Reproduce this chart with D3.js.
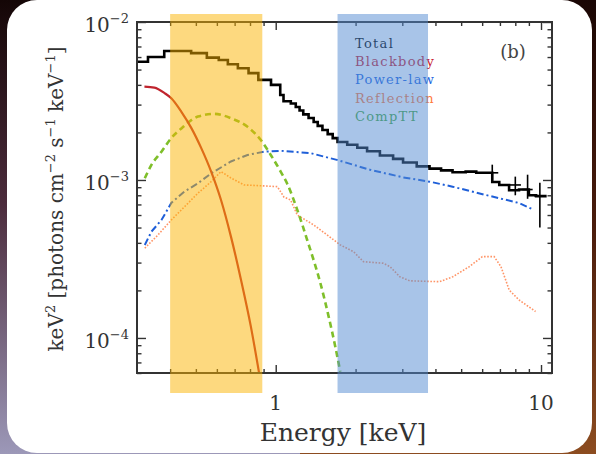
<!DOCTYPE html>
<html>
<head>
<meta charset="utf-8">
<script src="https://cdn.jsdelivr.net/npm/d3@7"></script>
<style>
  html, body { margin: 0; padding: 0; background: #1a0a0a; }
  svg { display: block; }
</style>
</head>
<body>
<div id="chart"></div>
<script>
// ---- data ----
// total model: step histogram, bin edges + bin values
const totalEdges = [0.30,0.33,0.38,0.48,0.55,0.61,0.66,0.72,0.79,0.86,0.96,1.04,1.07,1.14,1.19,1.23,1.27,1.33,1.39,1.44,1.50,1.57,1.64,1.71,1.86,2.03,2.21,2.47,2.77,3.02,3.40,3.80,4.20,4.64,5.20,5.70,6.55,6.96,7.58,8.26,9.00,9.58,10.5]
const totalValues = [5.6e-3,6.0e-3,6.55e-3,6.35e-3,5.95e-3,5.75e-3,5.4e-3,5.1e-3,4.75e-3,4.3e-3,4.0e-3,3.45e-3,3.15e-3,3.05e-3,2.9e-3,2.75e-3,2.6e-3,2.47e-3,2.33e-3,2.2e-3,2.07e-3,1.95e-3,1.84e-3,1.74e-3,1.67e-3,1.6e-3,1.52e-3,1.43e-3,1.36e-3,1.29e-3,1.22e-3,1.18e-3,1.15e-3,1.12e-3,1.13e-3,1.11e-3,9.7e-4,9.3e-4,8.6e-4,8.7e-4,8.0e-4,7.9e-4]

// error bars on the last bins
const errEnergy = [6.55, 8.0, 8.9, 9.9]
const errELow = [6.3, 7.6, 8.5, 9.45]
const errEHigh = [6.9, 8.4, 9.3, 10.4]
const errMid = [1.11e-3, 9.3e-4, 8.7e-4, 7.9e-4]
const errLow = [1.0e-3, 8.0e-4, 7.6e-4, 5.0e-4]
const errHigh = [1.25e-3, 1.05e-3, 1.08e-3, 9.6e-4]

const bbEnergy = [0.320,0.349,0.381,0.404,0.441,0.481,0.524,0.571,0.622,0.678,0.740,0.806,0.866]
const bbValues = [3.90e-3,3.84e-3,3.55e-3,3.29e-3,2.70e-3,2.13e-3,1.59e-3,1.13e-3,7.47e-4,4.38e-4,2.33e-4,1.18e-4,5.98e-5]

const plEnergy = [0.321,0.340,0.371,0.404,0.452,0.509,0.571,0.678,0.783,0.904,1.044,1.352,1.70,2.27,3.01,3.80,4.64,6.20,8.26,9.41]
const plValues = [3.88e-4,4.71e-4,5.58e-4,7.15e-4,8.43e-4,9.53e-4,1.10e-3,1.31e-3,1.44e-3,1.51e-3,1.53e-3,1.48e-3,1.34e-3,1.16e-3,1.04e-3,9.76e-4,9.07e-4,8.03e-4,7.15e-4,6.46e-4]

const reflEnergy = [0.321,0.360,0.404,0.453,0.509,0.571,0.622,0.678,0.761,0.904,1.015,1.074,1.138,1.206,1.391,1.562,1.751,1.964,2.141,2.545,2.695,2.937,3.20,4.15,4.65,5.37,6.01,6.66,7.06,7.59,8.26,9.54]
const reflValues = [3.70e-4,4.49e-4,5.58e-4,6.77e-4,8.24e-4,9.76e-4,1.13e-3,1.03e-3,9.30e-4,9.17e-4,9.07e-4,7.80e-4,7.47e-4,6.00e-4,5.19e-4,4.49e-4,3.88e-4,3.52e-4,3.04e-4,2.97e-4,2.83e-4,2.44e-4,2.30e-4,2.27e-4,2.44e-4,2.83e-4,3.27e-4,3.27e-4,2.83e-4,2.01e-4,1.74e-4,1.47e-4]

const comptEnergy = [0.321,0.340,0.371,0.404,0.441,0.509,0.588,0.678,0.783,0.879,0.958,1.044,1.106,1.206,1.314,1.474,1.584,1.677,1.751]
const comptValues = [1.026e-3,1.245e-3,1.51e-3,1.84e-3,2.12e-3,2.52e-3,2.62e-3,2.46e-3,2.17e-3,1.79e-3,1.44e-3,1.13e-3,9.44e-4,6.46e-4,4.17e-4,2.22e-4,1.36e-4,8.81e-5,6.12e-5]

// highlighted energy bands (keV)
const bandRanges = [[0.40, 0.89], [1.71, 3.75]]

const legendLabels = ['Total', 'Blackbody', 'Power-law', 'Reflection', 'CompTT']
const yTickValues = [1e-4, 1e-3, 1e-2]
const yTickExponents = ['\u22124', '\u22123', '\u22122']
const xTickValues = [1, 10]
const xTickLabels = ['1', '10']

// ---- layout ----
const width = 596
const height = 454
const plot = { left: 137, right: 552, top: 22, bottom: 373 }

const svg = d3.select('#chart').append('svg')
  .attr('width', width)
  .attr('height', height)

// background photo strips + rounded white card
const defs = svg.append('defs')
const gl = defs.append('linearGradient').attr('id', 'bgL').attr('x1', 0).attr('y1', 0).attr('x2', 0).attr('y2', 1)
gl.append('stop').attr('offset', '0%').attr('stop-color', '#140606')
gl.append('stop').attr('offset', '45%').attr('stop-color', '#4c2c3c')
gl.append('stop').attr('offset', '100%').attr('stop-color', '#9c98b8')
const gr = defs.append('linearGradient').attr('id', 'bgR').attr('x1', 0).attr('y1', 0).attr('x2', 0).attr('y2', 1)
gr.append('stop').attr('offset', '0%').attr('stop-color', '#1a0604')
gr.append('stop').attr('offset', '50%').attr('stop-color', '#4a1c0c')
gr.append('stop').attr('offset', '100%').attr('stop-color', '#8c4c20')

svg.append('rect').attr('x', 0).attr('y', 0).attr('width', 300).attr('height', height).attr('fill', 'url(#bgL)')
svg.append('rect').attr('x', 300).attr('y', 0).attr('width', 296).attr('height', height).attr('fill', 'url(#bgR)')
svg.append('rect')
  .attr('x', 7).attr('y', 0)
  .attr('width', 585).attr('height', 453)
  .attr('rx', 30)
  .attr('fill', '#fff')

// ---- scales ----
const xScale = d3.scaleLog()
  .domain([0.3, 11])
  .range([plot.left, plot.right])

const yScale = d3.scaleLog()
  .domain([6e-5, 1e-2])
  .range([plot.bottom, plot.top])

const serif = "'DejaVu Serif', 'Liberation Serif', serif"

// clip so the curves stay inside the frame
defs.append('clipPath').attr('id', 'plotClip')
  .append('rect')
  .attr('x', plot.left).attr('y', plot.top)
  .attr('width', plot.right - plot.left).attr('height', plot.bottom - plot.top)

const ctr = svg.append('g').attr('clip-path', 'url(#plotClip)')

// ---- lines ----
const line = d3.line()
  .x(d => xScale(d[0]))
  .y(d => yScale(d[1]))

const zip = (a, b) => a.map((v, i) => [v, b[i]])

ctr.append('path')
  .datum(zip(reflEnergy, reflValues))
  .attr('d', line)
  .attr('fill', 'none')
  .attr('stroke', '#ff9466')
  .attr('stroke-width', 1.6)
  .attr('stroke-dasharray', '1.6 1.6')

ctr.append('path')
  .datum(zip(plEnergy, plValues))
  .attr('d', line)
  .attr('fill', 'none')
  .attr('stroke', '#1f5fd8')
  .attr('stroke-width', 2)
  .attr('stroke-dasharray', '7 3 2 3')

ctr.append('path')
  .datum(zip(comptEnergy, comptValues))
  .attr('d', line.curve(d3.curveMonotoneX))
  .attr('fill', 'none')
  .attr('stroke', '#7fbf2a')
  .attr('stroke-width', 2.6)
  .attr('stroke-dasharray', '6 4')

ctr.append('path')
  .datum(zip(bbEnergy, bbValues))
  .attr('d', line.curve(d3.curveMonotoneX))
  .attr('fill', 'none')
  .attr('stroke', '#c0242e')
  .attr('stroke-width', 2.2)

// total as stepped histogram
const stepData = totalValues.map((v, i) => [totalEdges[i], v])
stepData.push([totalEdges[totalEdges.length - 1], totalValues[totalValues.length - 1]])
ctr.append('path')
  .datum(stepData)
  .attr('d', line.curve(d3.curveStepAfter))
  .attr('fill', 'none')
  .attr('stroke', '#000')
  .attr('stroke-width', 2.6)

const errG = ctr.append('g').attr('stroke', '#000').attr('stroke-width', 1.6)
errEnergy.forEach((e, i) => {
  errG.append('line')
    .attr('x1', xScale(e)).attr('x2', xScale(e))
    .attr('y1', yScale(errLow[i])).attr('y2', yScale(errHigh[i]))
  errG.append('line')
    .attr('x1', xScale(errELow[i])).attr('x2', xScale(errEHigh[i]))
    .attr('y1', yScale(errMid[i])).attr('y2', yScale(errMid[i]))
})

// ---- frame + axes (ticks point inward) ----
const axisG = svg.append('g').attr('color', '#333')
const xMinor = [0.4,0.5,0.6,0.7,0.8,0.9,2,3,4,5,6,7,8,9]
const yMinor = []
;[1e-5, 1e-4, 1e-3].forEach(dec => d3.range(2, 10).forEach(k => {
  const v = dec * k
  if (v >= 6e-5 && v < 1e-2) yMinor.push(v)
}))

const addAxis = (axisFn, scale, vals, size, tx, ty) => {
  axisG.append('g')
    .attr('transform', `translate(${tx},${ty})`)
    .call(axisFn(scale).tickValues(vals).tickSize(size).tickFormat(''))
    .call(g => g.select('.domain').remove())
    .selectAll('line').attr('stroke-width', 1.4)
}
addAxis(d3.axisBottom, xScale, xTickValues, -8, 0, plot.bottom)
addAxis(d3.axisBottom, xScale, xMinor, -4, 0, plot.bottom)
addAxis(d3.axisTop, xScale, xTickValues, -8, 0, plot.top)
addAxis(d3.axisTop, xScale, xMinor, -4, 0, plot.top)
addAxis(d3.axisLeft, yScale, yTickValues, -9, plot.left, 0)
addAxis(d3.axisLeft, yScale, yMinor, -4.5, plot.left, 0)
addAxis(d3.axisRight, yScale, yTickValues, -9, plot.right, 0)
addAxis(d3.axisRight, yScale, yMinor, -4.5, plot.right, 0)

svg.append('rect')
  .attr('x', plot.left).attr('y', plot.top)
  .attr('width', plot.right - plot.left).attr('height', plot.bottom - plot.top)
  .attr('fill', 'none')
  .attr('stroke', '#333')
  .attr('stroke-width', 2)

// tick labels
const yLab = svg.append('g').attr('font-family', serif).attr('fill', '#333')
yTickValues.forEach((v, i) => {
  const t = yLab.append('text')
    .attr('x', 129).attr('y', yScale(v) + 10)
    .attr('text-anchor', 'end')
    .attr('font-size', 20)
  t.append('tspan').text('10')
  t.append('tspan').attr('font-size', 13).attr('dy', -9).text(yTickExponents[i])
})

svg.append('g').selectAll('text')
  .data(xTickValues)
  .join('text')
  .attr('x', d => xScale(d))
  .attr('y', plot.bottom + 37)
  .attr('text-anchor', 'middle')
  .attr('font-family', serif)
  .attr('font-size', 20)
  .attr('fill', '#333')
  .text((d, i) => xTickLabels[i])

svg.append('text')
  .attr('x', 343).attr('y', 441)
  .attr('text-anchor', 'middle')
  .attr('font-family', serif)
  .attr('font-size', 25)
  .attr('fill', '#333')
  .text('Energy [keV]')

const yTitle = svg.append('text')
  .attr('transform', 'translate(63,199) rotate(-90)')
  .attr('text-anchor', 'middle')
  .attr('font-family', serif)
  .attr('font-size', 20)
  .attr('fill', '#333')
yTitle.append('tspan').text('keV')
yTitle.append('tspan').attr('font-size', 13).attr('dy', -8).text('2')
yTitle.append('tspan').attr('dy', 8).text(' [photons cm')
yTitle.append('tspan').attr('font-size', 13).attr('dy', -8).text('\u22122')
yTitle.append('tspan').attr('dy', 8).text(' s')
yTitle.append('tspan').attr('font-size', 13).attr('dy', -8).text('\u22121')
yTitle.append('tspan').attr('dy', 8).text(' keV')
yTitle.append('tspan').attr('font-size', 13).attr('dy', -8).text('\u22121')
yTitle.append('tspan').attr('dy', 8).text(']')

// legend + panel tag
const legendColors = ['#000', '#c8202e', '#2266e0', '#ff7a3a', '#4aa83a']
svg.append('g').selectAll('text')
  .data(legendLabels)
  .join('text')
  .attr('x', 355)
  .attr('y', (d, i) => 48 + i * 18.2)
  .attr('font-family', serif)
  .attr('font-size', 13)
  .attr('letter-spacing', 1.3)
  .attr('fill', (d, i) => legendColors[i])
  .text(d => d)

svg.append('text')
  .attr('x', 513).attr('y', 58)
  .attr('text-anchor', 'middle')
  .attr('font-family', serif)
  .attr('font-size', 18)
  .attr('fill', '#444')
  .text('(b)')

// ---- translucent highlight bands drawn over everything ----
const bandColors = ['#fcb400', '#5189d2']
svg.append('g').selectAll('rect')
  .data(bandRanges)
  .join('rect')
  .attr('x', d => xScale(d[0]))
  .attr('width', d => xScale(d[1]) - xScale(d[0]))
  .attr('y', 14)
  .attr('height', 393 - 14)
  .attr('fill', (d, i) => bandColors[i])
  .attr('opacity', 0.5)
</script>
</body>
</html>
